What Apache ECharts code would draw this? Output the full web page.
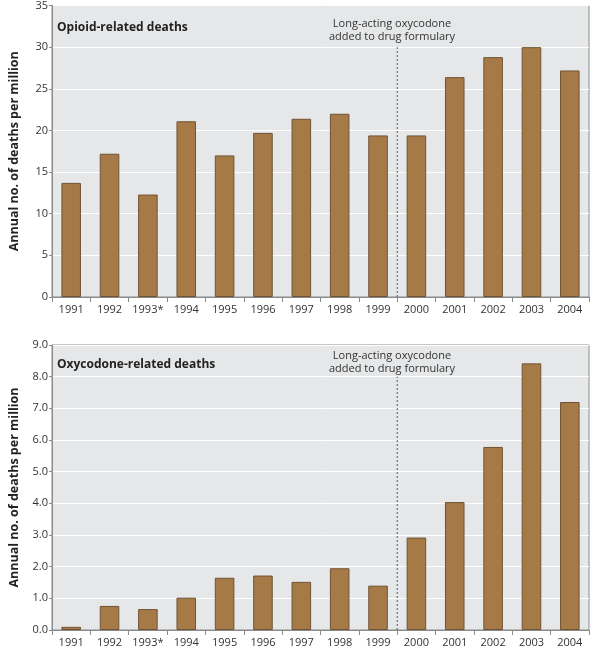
<!DOCTYPE html>
<html>
<head>
<meta charset="utf-8">
<script src="https://cdn.jsdelivr.net/npm/echarts@6/dist/echarts.min.js"></script>
<style>
html,body{margin:0;padding:0;background:#fff;}
#c{width:592px;height:649px;}
</style>
</head>
<body>
<div id="c"></div>
<script>
const years = ['1991','1992','1993*','1994','1995','1996','1997','1998','1999','2000','2001','2002','2003','2004'];
const opioidDeaths = [13.7, 17.2, 12.3, 21.1, 17.0, 19.7, 21.4, 22.0, 19.4, 19.4, 26.4, 28.8, 30.0, 27.2];
const oxycodoneDeaths = [0.1, 0.76, 0.66, 1.02, 1.65, 1.72, 1.52, 1.95, 1.40, 2.92, 4.04, 5.78, 8.42, 7.2];
const opioidTicks = {min: 0, max: 35, interval: 5};
const oxyTicks = {min: 0, max: 9, interval: 1};
const formularyBoundary = 8.5; // between 1999 and 2000
const boundaryTop = [30, 8];
const panelTitles = ['Opioid-related deaths', 'Oxycodone-related deaths'];
const annotation = 'Long-acting oxycodone\nadded to drug formulary';
const yName = 'Annual no. of deaths per million';

const FONT = '"Open Sans", "Noto Sans", sans-serif';
const barColor = '#a67a47';
const barBorder = '#6f5334';
const axisGray = '#8a8a8a';

const grids = [
  {left: 39, right: 3, top: 5, height: 292, show: true, backgroundColor: '#e6e7e8', borderColor: axisGray, borderWidth: 1},
  {left: 39, right: 3, top: 345, height: 285, show: true, backgroundColor: '#e6e7e8', borderColor: axisGray, borderWidth: 1}
];

function catAxis(i) {
  return {
    type: 'category', gridIndex: i, data: years,
    axisLine: {onZero: false, lineStyle: {color: axisGray, width: 1}},
    axisTick: {show: true, length: 5, lineStyle: {color: axisGray}},
    axisLabel: {color: '#333', fontSize: 11, fontFamily: FONT, margin: 7, interval: 0}
  };
}
function hiddenAxis(i) {
  return {type: 'value', gridIndex: i, min: -0.5, max: years.length - 0.5, show: false,
          axisLine: {show: false, onZero: false}, splitLine: {show: false}, axisTick: {show: false}, axisLabel: {show: false}};
}
function valAxis(i, t, fmt) {
  return {
    type: 'value', gridIndex: i, min: t.min, max: t.max, interval: t.interval,
    name: yName, nameLocation: 'middle', nameGap: 31, nameRotate: 90,
    nameTextStyle: {fontSize: 12.5, fontWeight: 'bold', color: '#222', fontFamily: FONT},
    axisLine: {show: true, onZero: false, lineStyle: {color: axisGray}},
    axisTick: {show: true, length: 3, lineStyle: {color: axisGray}},
    axisLabel: {color: '#333', fontSize: 11, fontFamily: FONT, margin: 4, formatter: fmt},
    splitLine: {show: true, lineStyle: {color: '#ffffff', width: 1}}
  };
}

const option = {
  animation: false,
  backgroundColor: '#fff',
  grid: grids,
  title: [
    {text: panelTitles[0], left: 52, top: 17, textStyle: {fontSize: 12, fontWeight: 'bold', color: '#222', fontFamily: FONT}},
    {text: panelTitles[1], left: 52, top: 354, textStyle: {fontSize: 12, fontWeight: 'bold', color: '#222', fontFamily: FONT}}
  ],
  xAxis: [catAxis(0), catAxis(1), hiddenAxis(0), hiddenAxis(1)],
  yAxis: [
    valAxis(0, opioidTicks, v => String(v)),
    valAxis(1, oxyTicks, v => v.toFixed(1))
  ],
  graphic: [
    {type: 'text', x: 392, y: 17, style: {text: annotation, textAlign: 'center', fill: '#333', font: '11px ' + FONT, lineHeight: 13}},
    {type: 'text', x: 392, y: 349, style: {text: annotation, textAlign: 'center', fill: '#333', font: '11px ' + FONT, lineHeight: 13}}
  ],
  series: [
    {type: 'bar', xAxisIndex: 0, yAxisIndex: 0, data: opioidDeaths, barWidth: '51%',
     itemStyle: {color: barColor, borderColor: barBorder, borderWidth: 1}},
    {type: 'bar', xAxisIndex: 1, yAxisIndex: 1, data: oxycodoneDeaths, barWidth: '51%',
     itemStyle: {color: barColor, borderColor: barBorder, borderWidth: 1}},
    {type: 'line', xAxisIndex: 2, yAxisIndex: 0, symbol: 'none',
     data: [[formularyBoundary, 0], [formularyBoundary, boundaryTop[0]]],
     lineStyle: {color: '#555', width: 1, type: [2, 2]}},
    {type: 'line', xAxisIndex: 3, yAxisIndex: 1, symbol: 'none',
     data: [[formularyBoundary, 0], [formularyBoundary, boundaryTop[1]]],
     lineStyle: {color: '#555', width: 1, type: [2, 2]}}
  ]
};

const chart = echarts.init(document.getElementById('c'), null, {renderer: 'canvas'});
chart.setOption(option);
</script>
</body>
</html>
